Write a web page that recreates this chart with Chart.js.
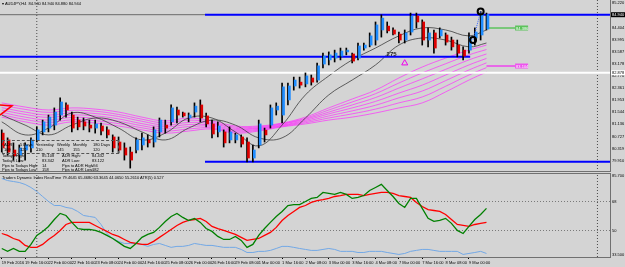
<!DOCTYPE html>
<html>
<head>
<meta charset="utf-8">
<script src="https://cdn.jsdelivr.net/npm/chart.js@4.4.1/dist/chart.umd.min.js"></script>
<style>
  body { margin: 0; background: #d4d4d4; }
  #screen { position: relative; width: 625px; height: 267px; overflow: hidden; background: #d4d4d4; font-family: "Liberation Sans", Arial, sans-serif; }
  #mainChart { position: absolute; left: 0; top: 0; }
  #tdiChart { position: absolute; left: 0; top: 172px; }
  .sep { position: absolute; left: 0; width: 611px; height: 1px; background: #707070; }
  .t { position: absolute; font-size: 4px; line-height: 4px; color: #000; white-space: nowrap; }
  #adrBox { position: absolute; left: 2px; top: 140px; width: 115px; height: 12px; border: 1px dashed #555; }
</style>
</head>
<body>
<div id="screen">
  <canvas id="mainChart" width="625" height="172"></canvas>
  <canvas id="tdiChart" width="625" height="95"></canvas>
  <div class="sep" style="top:171px"></div>
  <div class="sep" style="top:173px"></div>

  <div class="t" style="left:2px;top:2px">&#9662; AUDJPY,H4&nbsp; 84.940 84.940 84.880 84.944</div>

  <div id="adrBox"></div>
  <div class="t" style="left:4px;top:143px">ADR</div>
  <div class="t" style="left:20px;top:143px">5 Days</div>
  <div class="t" style="left:36px;top:143px">Yesterday</div>
  <div class="t" style="left:57px;top:143px">Weekly</div>
  <div class="t" style="left:73px;top:143px">Monthly</div>
  <div class="t" style="left:93px;top:143px">180 Days</div>
  <div class="t" style="left:4px;top:148px">109</div>
  <div class="t" style="left:20px;top:148px">121</div>
  <div class="t" style="left:36px;top:148px">110</div>
  <div class="t" style="left:57px;top:148px">145</div>
  <div class="t" style="left:73px;top:148px">155</div>
  <div class="t" style="left:93px;top:148px">120</div>

  <div class="t" style="left:2px;top:154px">Todays High:</div>
  <div class="t" style="left:42px;top:154px">85.108</div>
  <div class="t" style="left:62px;top:154px">ADR High:</div>
  <div class="t" style="left:92px;top:154px">84.432</div>
  <div class="t" style="left:2px;top:159px">Todays Low:</div>
  <div class="t" style="left:42px;top:159px">83.342</div>
  <div class="t" style="left:62px;top:159px">ADR Low:</div>
  <div class="t" style="left:92px;top:159px">83.122</div>
  <div class="t" style="left:2px;top:164px">Pips to Todays High:</div>
  <div class="t" style="left:42px;top:164px">14</div>
  <div class="t" style="left:62px;top:164px">Pips to ADR High:</div>
  <div class="t" style="left:92px;top:164px">-94</div>
  <div class="t" style="left:2px;top:168px">Pips to Todays Low:</div>
  <div class="t" style="left:42px;top:168px">158</div>
  <div class="t" style="left:62px;top:168px">Pips to ADR Low:</div>
  <div class="t" style="left:92px;top:168px">182</div>

  <div class="t" style="left:2px;top:176px">Traders Dynamic Index RealTime 79.4645 65.4680 63.3645 44.0650 55.2610 ATR(5) 0.527</div>
</div>

<script>
// AUDJPY H4 - price panel

const timeLabels = ['19 Feb 2016', '19 Feb 16:00', '22 Feb 00:00', '22 Feb 16:00', '23 Feb 08:00',
  '24 Feb 00:00', '24 Feb 16:00', '25 Feb 08:00', '26 Feb 00:00', '26 Feb 16:00', '29 Feb 08:00',
  '1 Mar 00:00', '1 Mar 16:00', '2 Mar 08:00', '3 Mar 00:00', '3 Mar 16:00', '4 Mar 08:00',
  '7 Mar 00:00', '7 Mar 16:00', '8 Mar 08:00', '9 Mar 00:00'];
const labelBars = [0, 4, 8, 12, 16, 20, 24, 28, 32, 36, 40, 44, 48, 52, 56, 60, 64, 68, 72, 76, 80];

const highs = [80.95,80.68,80.51,80.44,80.51,80.68,81.05,81.28,81.45,81.69,
  82.03,81.86,81.55,81.38,81.35,81.28,81.28,81.18,81.05,80.78,
  80.71,80.51,80.37,80.68,80.84,80.78,81.05,81.35,81.28,81.79,
  81.72,81.55,81.52,81.86,81.96,81.52,81.28,81.22,80.95,81.05,
  80.84,80.78,80.68,80.44,81.28,81.01,81.79,81.86,82.53,82.53,
  82.73,82.73,82.87,82.80,83.20,83.54,83.58,83.64,83.71,83.71,
  83.54,83.88,83.88,84.22,84.59,84.83,84.59,84.39,84.25,84.32,
  84.89,84.89,84.66,84.39,84.32,84.39,84.22,84.08,83.98,83.75,
  84.22,84.39,84.94,84.89];
const lows = [80.20,80.10,79.93,79.87,79.93,80.20,80.54,80.78,80.88,80.95,
  81.28,81.38,80.88,80.95,80.95,80.88,80.84,80.78,80.68,80.20,
  80.17,79.93,79.66,80.17,80.27,80.37,80.37,80.71,80.84,81.11,
  81.18,81.38,81.22,81.38,81.22,81.05,80.68,80.71,80.37,80.51,
  80.51,80.37,79.87,79.87,80.34,80.54,81.01,81.45,81.18,81.79,
  82.29,82.36,82.40,82.46,82.56,83.04,83.14,83.24,83.31,83.48,
  83.21,83.31,83.64,83.75,83.81,84.08,84.22,84.15,83.88,83.88,
  84.15,84.39,83.81,83.75,83.54,84.05,83.81,83.64,83.41,83.31,
  83.54,83.81,83.98,84.32];
const opens = [80.84,80.61,80.27,80.10,80.27,80.34,80.61,80.88,81.01,81.11,
  81.45,81.79,81.45,81.28,81.22,81.11,81.01,81.08,80.95,80.71,
  80.54,80.34,80.20,80.27,80.44,80.61,80.54,80.88,81.11,81.22,
  81.62,81.52,81.35,81.55,81.79,81.42,81.15,80.88,80.88,80.61,
  80.61,80.71,80.54,80.00,80.44,80.94,81.11,81.62,81.45,81.96,
  82.43,82.56,82.50,82.70,82.63,83.17,83.31,83.37,83.44,83.58,
  83.51,83.37,83.71,83.81,83.98,84.32,84.45,84.32,84.18,83.98,
  84.25,84.79,84.59,83.98,84.22,84.12,84.15,83.98,83.81,83.64,
  83.64,84.05,84.15,84.35];
const closes = [80.34,80.20,80.07,80.34,80.44,80.61,80.95,81.22,81.38,81.55,
  81.89,81.62,81.01,81.05,81.08,81.01,81.15,80.91,80.78,80.34,
  80.27,80.10,79.93,80.61,80.68,80.51,80.95,81.28,81.01,81.69,
  81.45,81.42,81.45,81.75,81.35,81.15,80.81,81.08,80.51,80.88,
  80.78,80.47,80.00,80.27,81.15,80.78,81.69,81.75,82.40,82.43,
  82.63,82.46,82.77,82.56,83.11,83.44,83.48,83.54,83.61,83.64,
  83.27,83.78,83.81,84.12,84.49,84.72,84.29,84.18,83.98,84.22,
  84.79,84.59,83.98,84.22,83.71,84.32,83.91,83.75,83.54,83.44,
  84.08,84.25,84.86,84.84];

// indicator lines read every 4 bars
const sampleBars = [0,4,8,12,16,20,24,28,32,36,40,44,48,52,56,60,64,68,72,76,80,83];
const maFast = [81.22,80.78,81.01,81.52,81.38,81.01,80.61,80.84,81.35,81.35,80.88,80.41,81.11,82.13,82.77,83.31,83.71,84.12,84.39,84.32,84.12,84.32];
const maSlow = [81.45,81.11,80.78,81.11,81.35,81.22,80.88,80.61,81.01,81.28,81.11,80.68,80.68,81.35,82.13,82.63,83.14,83.81,84.05,83.98,83.75,83.88];
const ribbon1 = [81.86,81.72,81.62,81.69,81.65,81.55,81.38,81.25,81.35,81.25,81.08,81.08,81.18,81.38,81.69,81.99,82.29,82.70,83.07,83.37,83.64,83.81];
const ribbon2 = [81.78,81.64,81.54,81.61,81.58,81.47,81.31,81.18,81.28,81.20,81.04,81.05,81.16,81.34,81.62,81.89,82.17,82.53,82.87,83.18,83.48,83.66];
const ribbon3 = [81.70,81.55,81.45,81.53,81.50,81.40,81.24,81.11,81.20,81.16,81.00,81.02,81.14,81.31,81.55,81.79,82.04,82.36,82.67,82.99,83.31,83.51];
const ribbon4 = [81.62,81.47,81.37,81.45,81.42,81.32,81.16,81.05,81.13,81.11,80.96,81.00,81.11,81.27,81.49,81.69,81.91,82.19,82.46,82.80,83.14,83.36];
const ribbon5 = [81.54,81.38,81.28,81.37,81.34,81.24,81.09,80.98,81.06,81.07,80.92,80.97,81.09,81.23,81.42,81.59,81.78,82.03,82.26,82.61,82.97,83.21];
const ribbon6 = [81.46,81.30,81.20,81.29,81.26,81.16,81.02,80.91,80.98,81.02,80.88,80.94,81.07,81.19,81.35,81.49,81.65,81.86,82.06,82.42,82.80,83.05];
const ribbon7 = [81.38,81.22,81.11,81.22,81.18,81.08,80.95,80.84,80.91,80.98,80.84,80.91,81.05,81.15,81.28,81.38,81.52,81.69,81.86,82.23,82.63,82.90];

// horizontal levels
const grayLevel = 84.835;
const blueTop = 84.835;
const blueMid = 83.418;
const blueLow = 79.876;
const whiteLevel = 82.878;
const greenLevel = 84.386;
const magentaLevel = 83.104;
const bidText = '84.940';
const zigzag = [[-0.3, 81.79], [1.75, 81.76], [-0.3, 81.45]];
const circles = [[82, 84.94], [80.7, 83.98]];
const arrowUp = [[69, 83.2]];
const countLabel = ['275', 65.9, 83.49];
const separatorBars = [6, 102];

const mainTicks = [79.910, 80.319, 80.727, 81.136, 81.544, 81.953, 82.361, 82.770, 83.178, 83.587, 83.995, 84.404, 84.812, 85.220];

// Traders Dynamic Index panel
const tdiGreen = [38.8,37.0,38.8,37.0,37.0,41.3,46.9,49.4,52.5,56.8,
  60.6,59.3,55.0,51.2,50.6,50.6,50.0,48.8,46.9,45.0,
  42.6,40.1,38.8,41.9,45.7,47.5,48.8,51.9,55.6,58.7,
  60.6,58.1,56.2,57.5,55.0,51.2,49.4,46.3,44.4,44.4,
  46.3,43.8,39.5,41.3,46.9,51.2,55.0,58.7,61.8,65.5,
  66.1,66.1,68.0,69.9,70.5,73.6,73.0,72.4,73.6,72.4,
  69.9,70.5,71.7,74.8,76.7,78.6,74.8,71.1,66.8,64.3,
  69.9,69.9,63.7,57.5,55.6,56.2,57.5,54.4,50.0,48.1,
  52.5,56.8,59.9,63.7];
const tdiRed = [48.1,46.9,45.0,43.8,40.7,39.5,39.5,41.3,44.4,46.9,
  50.0,53.7,55.0,55.0,55.0,55.0,53.1,51.2,49.4,47.5,
  46.3,44.4,42.6,41.9,41.3,41.3,43.2,45.7,48.1,50.6,
  53.1,55.0,56.2,56.8,57.5,55.6,52.5,51.2,50.0,48.8,
  47.5,45.7,43.8,44.4,45.0,46.9,48.8,51.9,56.2,59.3,
  61.8,64.3,65.5,67.4,68.6,69.2,69.9,71.1,71.7,72.4,
  72.4,72.4,71.7,72.4,73.0,73.6,73.6,73.0,71.7,71.1,
  70.5,67.4,64.9,63.0,62.4,61.8,59.9,56.8,53.7,53.1,
  52.5,53.7,54.4,55.0];
const tdiBand = [82.3,81.0,80.4,79.8,78.6,76.7,74.2,71.1,68.0,65.5,
  65.5,64.3,63.7,61.8,59.3,58.7,58.1,53.7,48.1,45.0,
  43.2,41.9,41.9,41.9,41.3,40.1,41.3,41.9,40.7,39.5,
  40.1,40.1,40.7,41.9,41.3,40.7,40.7,40.1,39.5,39.5,
  39.5,38.2,36.3,36.3,37.0,37.0,37.6,38.8,40.1,40.1,
  39.5,38.8,38.2,37.6,37.6,38.2,38.8,38.2,37.0,37.0,
  37.0,36.3,36.3,37.0,37.0,37.0,36.3,35.7,35.1,35.7,
  37.0,37.6,38.2,38.2,37.6,37.0,37.0,37.0,37.0,35.1,
  35.7,36.3,37.0,35.7];
const tdiLevels = [50, 68];
const tdiMin = 33.5;
const tdiMax = 85.7;

// ---------------------------------------------------------------

const X_MIN = -0.3, X_MAX = 104.15;
const P_MIN = 79.528, P_MAX = 85.331;
const tinyFont = { family: '"Liberation Sans", Arial, sans-serif', size: 4 };

// no auto padding: plot area must fill the canvas edge to edge
const noPad = s => { s.paddingTop = 0; s.paddingBottom = 0; s.paddingLeft = 0; s.paddingRight = 0; };

const sampled = arr => sampleBars.map((k, i) => ({ x: k, y: arr[i] }));
const hLine = (x0, x1, v) => [{ x: x0, y: v }, { x: x1, y: v }];
const lineDs = (data, color, width, order, extra) => Object.assign({
  type: 'line', data: data, borderColor: color, borderWidth: width,
  pointRadius: 0, fill: false, order: order
}, extra || {});

const ribbons = [ribbon1, ribbon2, ribbon3, ribbon4, ribbon5, ribbon6, ribbon7];

const mainDatasets = [];
separatorBars.forEach(k => {
  mainDatasets.push(lineDs([{ x: k, y: P_MIN }, { x: k, y: P_MAX }], '#4a4a4a', 1, 30, { borderDash: [1, 2] }));
});
ribbons.forEach(r => {
  mainDatasets.push(lineDs(sampled(r), 'rgba(255,40,255,0.85)', 0.8, 20, { tension: 0.4 }));
});
mainDatasets.push(lineDs(sampled(maFast), '#3c3c3c', 0.8, 15, { tension: 0.4 }));
mainDatasets.push(lineDs(sampled(maSlow), '#3c3c3c', 0.8, 15, { tension: 0.4 }));

mainDatasets.push(lineDs(hLine(X_MIN, 34.8, grayLevel), '#6a6a6a', 1, 12));
mainDatasets.push(lineDs(hLine(X_MIN, X_MAX, whiteLevel), '#ffffff', 2, 12));
mainDatasets.push(lineDs(hLine(34.8, X_MAX, blueTop), '#0000ff', 2, 12));
mainDatasets.push(lineDs(hLine(X_MIN, 80.2, blueMid), '#0000ff', 2, 12));
mainDatasets.push(lineDs(hLine(34.8, X_MAX, blueLow), '#0000ff', 2, 12));
mainDatasets.push(lineDs(hLine(83, 87.9, greenLevel), '#5cc35c', 1.5, 12));
mainDatasets.push(lineDs(hLine(83, 87.9, magentaLevel), '#ee44ee', 1.5, 12));

mainDatasets.push({
  type: 'bar', data: highs.map((h, i) => ({ x: i, y: [lows[i], h] })),
  backgroundColor: '#000', barThickness: 1, grouped: false, order: 6
});
mainDatasets.push({
  type: 'bar', data: opens.map((o, i) => ({ x: i + 0.25, y: [o, closes[i]] })),
  backgroundColor: opens.map((o, i) => closes[i] >= o ? '#1e8cff' : '#e00000'),
  barThickness: 2, grouped: false, minBarLength: 1, order: 5
});

mainDatasets.push(lineDs(zigzag.map(p => ({ x: p[0], y: p[1] })), '#ff0000', 1.5, 4));
mainDatasets.push(lineDs(circles.map(p => ({ x: p[0], y: p[1] })), '#3060ff', 1, 3, { borderDash: [1, 1] }));
mainDatasets.push(lineDs(circles.map(p => ({ x: p[0], y: p[1] })), '#000', 0, 1, {
  showLine: false, pointRadius: 3, pointBorderWidth: 2, pointBorderColor: '#000',
  pointBackgroundColor: 'rgba(0,0,0,0)'
}));
mainDatasets.push(lineDs(arrowUp.map(p => ({ x: p[0], y: p[1] })), '#ee00ee', 0, 1, {
  showLine: false, pointStyle: 'triangle', pointRadius: 3.5, pointBorderWidth: 1,
  pointBorderColor: '#ee00ee', pointBackgroundColor: 'rgba(0,0,0,0)'
}));

const axisTags = {
  id: 'axisTags',
  afterDraw(chart) {
    const { ctx, scales } = chart;
    const sx = scales.x, sy = scales.y;
    ctx.save();
    ctx.font = '4px "Liberation Sans", Arial, sans-serif';
    ctx.textBaseline = 'middle';
    const tag = (px, price, text, bg, fg, w) => {
      const py = sy.getPixelForValue(price);
      ctx.fillStyle = bg;
      ctx.fillRect(px, py - 2.5, w, 5);
      ctx.fillStyle = fg;
      ctx.fillText(text, px + 1, py + 0.5);
    };
    tag(611, blueTop, bidText, '#000', '#fff', 14);
    tag(611, whiteLevel, whiteLevel.toFixed(3), '#fff', '#000', 14);
    const tx = sx.getPixelForValue(87.9);
    tag(tx, greenLevel, greenLevel.toFixed(3), '#5cc35c', '#fff', 13);
    tag(tx, magentaLevel, magentaLevel.toFixed(3), '#ee55ee', '#fff', 13);
    ctx.font = 'bold 6px "Liberation Sans", Arial, sans-serif';
    ctx.fillStyle = '#222';
    ctx.fillText(countLabel[0], sx.getPixelForValue(countLabel[1]), sy.getPixelForValue(countLabel[2]));
    ctx.restore();
  }
};

new Chart(document.getElementById('mainChart'), {
  type: 'bar',
  data: { datasets: mainDatasets },
  options: {
    responsive: false,
    animation: false,
    events: [],
    layout: { padding: 0, autoPadding: false },
    plugins: { legend: { display: false }, tooltip: { enabled: false } },
    scales: {
      x: { type: 'linear', min: X_MIN, max: X_MAX, display: false, offset: false, grid: { offset: false } },
      y: {
        position: 'right', min: P_MIN, max: P_MAX,
        afterBuildTicks: s => { s.ticks = mainTicks.map(v => ({ value: v })); },
        afterFit: s => { s.width = 15; noPad(s); },
        ticks: { font: tinyFont, color: '#000', padding: 1, autoSkip: false, callback: v => v.toFixed(3) },
        grid: { drawOnChartArea: false, drawTicks: true, tickLength: 1, color: '#000' },
        border: { color: '#707070' }
      }
    }
  },
  plugins: [axisTags]
});

// ---- lower panel ----
const tdiSeries = arr => arr.map((v, i) => ({ x: i, y: v }));
const tdiDatasets = [];
separatorBars.forEach(k => {
  tdiDatasets.push(lineDs([{ x: k, y: tdiMin }, { x: k, y: tdiMax }], '#4a4a4a', 1, 30, { borderDash: [1, 2] }));
});
tdiDatasets.push(lineDs(tdiSeries(tdiBand), '#72a8e6', 1, 5));
tdiDatasets.push(lineDs(tdiSeries(tdiRed), '#ff0000', 1.3, 4));
tdiDatasets.push(lineDs(tdiSeries(tdiGreen), '#008000', 1.3, 3));

const tdiEnds = {
  id: 'tdiEnds',
  afterDraw(chart) {
    const { ctx, chartArea } = chart;
    ctx.save();
    ctx.font = '4px "Liberation Sans", Arial, sans-serif';
    ctx.fillStyle = '#000';
    ctx.textBaseline = 'middle';
    ctx.fillText(tdiMax.toFixed(3), chartArea.right + 2, chartArea.top + 3);
    ctx.fillText(tdiMin.toFixed(3), chartArea.right + 2, chartArea.bottom - 2);
    ctx.restore();
  }
};

new Chart(document.getElementById('tdiChart'), {
  type: 'line',
  data: { datasets: tdiDatasets },
  options: {
    responsive: false,
    animation: false,
    events: [],
    layout: { padding: { top: 1, left: 0, right: 0, bottom: 0 }, autoPadding: false },
    plugins: { legend: { display: false }, tooltip: { enabled: false } },
    scales: {
      x: {
        type: 'linear', min: X_MIN, max: X_MAX, offset: false,
        afterBuildTicks: s => { s.ticks = labelBars.map(v => ({ value: v })); },
        afterFit: s => { s.height = 10; noPad(s); },
        ticks: {
          font: tinyFont, color: '#000', align: 'start', padding: 1, autoSkip: false,
          maxRotation: 0, minRotation: 0,
          callback: v => timeLabels[labelBars.indexOf(v)]
        },
        grid: { drawOnChartArea: false, drawTicks: true, tickLength: 2, color: '#000' },
        border: { color: '#707070' }
      },
      y: {
        position: 'right', min: tdiMin, max: tdiMax,
        afterBuildTicks: s => { s.ticks = tdiLevels.map(v => ({ value: v })); },
        afterFit: s => { s.width = 15; noPad(s); },
        ticks: { font: tinyFont, color: '#000', padding: 1, autoSkip: false },
        grid: { drawOnChartArea: true, drawTicks: true, tickLength: 1, color: '#7a7a7a' },
        border: { color: '#707070', dash: [1, 2] }
      }
    }
  },
  plugins: [tdiEnds]
});
</script>
</body>
</html>
